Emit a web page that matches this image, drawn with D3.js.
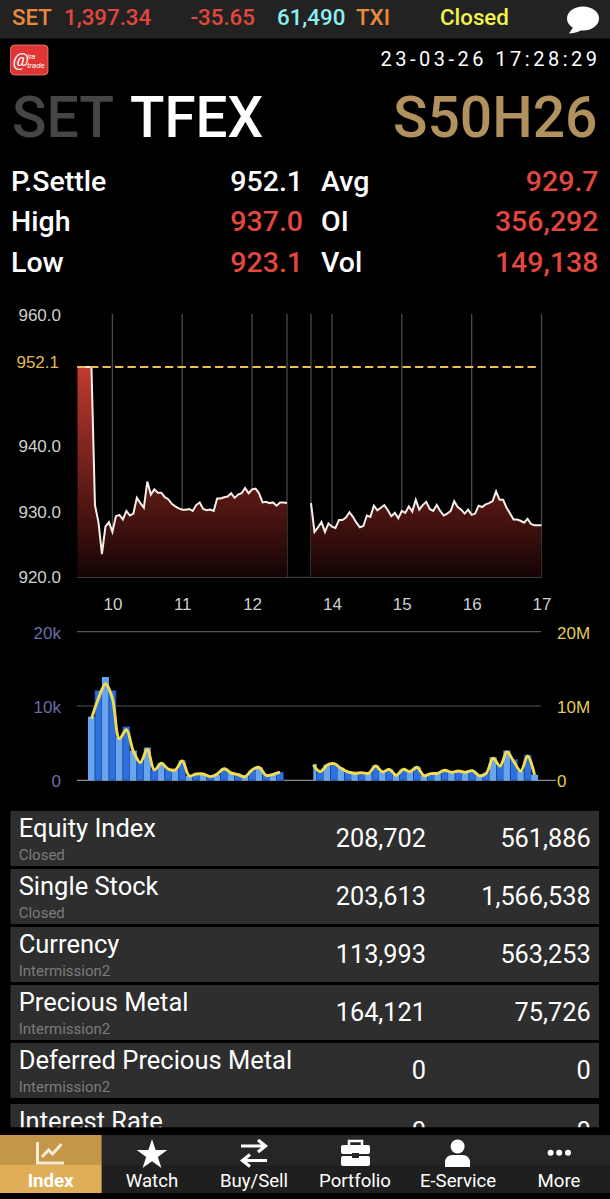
<!DOCTYPE html>
<html>
<head>
<meta charset="utf-8">
<script src="https://cdn.jsdelivr.net/npm/d3@7"></script>
<style>
  html, body { margin: 0; padding: 0; background: #000; }
  svg { display: block; font-family: Roboto, sans-serif; }
  .chartText { font-family: "Liberation Sans", sans-serif; font-size: 17px; }
</style>
</head>
<body>
<div id="chart"></div>
<script>
// price every 3 minutes, 9:30 - 12:30 and 13:42 - 17:00
var morningPrice = [952.1, 952.1, 952.1, 952.1, 952.1, 931.0, 928.4, 923.5, 927.7, 928.4, 926.9, 929.3, 929.5, 928.8, 930.1,
  929.4, 929.7, 932.1, 931.3, 930.6, 934.6, 932.6, 933.4, 932.9, 932.9, 932.2, 931.9, 931.2, 930.8, 930.5,
  930.3, 930.3, 930.4, 930.1, 931.0, 931.4, 930.4, 930.2, 930.3, 930.1, 932.0, 932.0, 932.2, 932.3, 932.8,
  932.1, 932.6, 932.8, 933.6, 932.8, 933.4, 933.5, 932.8, 931.4, 931.5, 931.3, 931.4, 930.9, 931.4, 931.4, 931.3];
var afternoonPrice = [931.3, 926.9, 927.6, 928.4, 926.9, 928.2, 927.7, 927.5, 928.7, 928.7, 929.1, 929.9, 929.2, 928.3, 927.6,
  927.8, 929.4, 929.2, 930.9, 930.2, 930.6, 931.0, 930.2, 929.3, 929.8, 929.0, 930.1, 929.8, 930.8, 930.0,
  931.8, 930.3, 931.0, 931.5, 930.4, 930.1, 931.0, 930.1, 929.4, 929.7, 930.1, 931.6, 930.7, 930.3, 929.7,
  930.3, 929.5, 929.7, 930.9, 930.7, 931.1, 931.3, 931.6, 933.1, 931.8, 931.8, 930.6, 929.7, 928.8, 928.8,
  928.6, 928.3, 928.9, 928.1, 927.9, 927.9, 927.9];

// volume (contracts) and value (millions), one bar every 6 minutes
var morningVolume = [8.56, 12.06, 13.9, 12.06, 5.8, 7.2, 4.0, 2.5, 4.4, 1.4, 2.3, 1.5, 1.4, 2.7, 0.6, 0.85, 0.8, 0.5, 0.75, 1.55, 1.1, 0.85, 0.5, 1.3, 1.75, 0.75, 0.8, 1.1];
var morningValue = [8.3, 11.0, 12.96, 11.0, 5.6, 6.8, 3.9, 2.4, 4.2, 1.4, 2.3, 1.5, 1.4, 2.6, 0.6, 0.85, 0.85, 0.5, 0.85, 1.55, 1.0, 0.75, 0.5, 1.4, 1.75, 0.65, 0.8, 1.1];
var afternoonVolume = [2.2, 1.3, 2.1, 2.3, 1.7, 1.15, 1.0, 1.05, 1.0, 2.0, 1.2, 1.5, 0.7, 1.5, 1.2, 1.8, 0.65, 0.95, 1.0, 1.4, 1.1, 1.3, 1.1, 1.35, 0.65, 1.0, 3.1, 2.0, 4.0, 2.8, 1.3, 3.4, 0.75];
var afternoonValue = [2.06, 1.17, 2.06, 2.24, 1.61, 1.12, 0.94, 1.03, 0.94, 1.93, 1.12, 1.48, 0.67, 1.48, 1.17, 1.75, 0.63, 0.9, 0.94, 1.35, 1.08, 1.26, 1.08, 1.3, 0.63, 0.94, 2.96, 1.93, 3.81, 2.51, 1.26, 3.27, 0.72];

var priceTicks = [920, 930, 940, 960];
var prevSettle = 952.1;
var hourTicks = [10, 11, 12, 14, 15, 16, 17];
var hourLines = [10, 11, 12, 12.5, 13.7, 14, 15, 16, 17];
var volumeTicks = [0, 10, 20];

var statNames = [["P.Settle", "High", "Low"], ["Avg", "OI", "Vol"]];
var statValues = [["952.1", "937.0", "923.1"], ["929.7", "356,292", "149,138"]];

var rowNames = ["Equity Index", "Single Stock", "Currency", "Precious Metal", "Deferred Precious Metal", "Interest Rate"];
var rowStatus = ["Closed", "Closed", "Intermission2", "Intermission2", "Intermission2", ""];
var rowVolume = ["208,702", "203,613", "113,993", "164,121", "0", "0"];
var rowOI = ["561,886", "1,566,538", "563,253", "75,726", "0", "0"];

var tabNames = ["Index", "Watch", "Buy/Sell", "Portfolio", "E-Service", "More"];
var tabCenters = [50.6, 152, 254, 355, 458, 559];

var red = "#e2473f", orange = "#e8893c", white = "#fff";

var svg = d3.select("#chart").append("svg").attr("width", 610).attr("height", 1199);
svg.append("rect").attr("width", 610).attr("height", 1199).attr("fill", "#000");

function label(parent, str, x, y, size, color, anchor, weight) {
  return parent.append("text").attr("x", x).attr("y", y).attr("font-size", size)
    .attr("fill", color).attr("text-anchor", anchor || "start").attr("font-weight", weight || 400).text(str);
}

// ---- top status bar
svg.append("rect").attr("width", 610).attr("height", 38.5).attr("fill", "#222");
label(svg, "SET", 12, 25, 22.3, orange, "start", 500);
label(svg, "1,397.34", 64, 25, 22.3, red, "start", 500);
label(svg, "-35.65", 190.5, 25, 22.3, red, "start", 500);
label(svg, "61,490", 277, 25, 22.3, "#8eeff0", "start", 500);
label(svg, "TXI", 356, 25, 22.3, orange, "start", 500);
label(svg, "Closed", 440, 25, 22.3, "#f2f24f", "start", 500);
svg.append("ellipse").attr("cx", 583).attr("cy", 18.5).attr("rx", 16).attr("ry", 12).attr("fill", "#fff");
svg.append("path").attr("d", "M574,26 L569,33.5 Q578,33 585,28 Z").attr("fill", "#fff");

// ---- logo, clock, titles
svg.append("rect").attr("x", 10.5).attr("y", 45).attr("width", 37.5).attr("height", 30).attr("rx", 4)
  .attr("fill", "#e03633").attr("stroke", "#ee8f86").attr("stroke-width", 0.7);
label(svg, "@", 13, 66, 18, "#fff").attr("font-style", "italic");
label(svg, "ira", 27, 59, 8, "#fff").attr("font-style", "italic");
label(svg, "trade", 27, 68, 8, "#fff").attr("font-style", "italic");
label(svg, "23-03-26 17:28:29", 600.5, 66, 20, "#fff", "end").attr("letter-spacing", "3.5px");
label(svg, "SET", 12, 137.3, 57, "#454545", "start", 500);
label(svg, "TFEX", 130, 137.3, 56.5, "#fff", "start", 500);
label(svg, "S50H26", 597.5, 137.3, 57, "#b1915d", "end", 500);

// ---- stat block
var statBase = [190.7, 231.3, 272];
statBase.forEach(function(y, i) {
  label(svg, statNames[0][i], 11, y, 28.5, white, "start", 500);
  label(svg, statValues[0][i], 303, y, 28.5, i == 0 ? white : red, "end", 500);
  label(svg, statNames[1][i], 321, y, 28.5, white, "start", 500);
  label(svg, statValues[1][i], 598.5, y, 28.5, red, "end", 500);
});

// ---- price chart
var x = d3.scaleLinear().domain([9.5, 12.5, 13.7, 17]).range([77.5, 287, 311, 541.5]);
var y = d3.scaleLinear().domain([920, 960]).range([577, 315.4]);

var morning = morningPrice.map(function(d, i) { return { t: 9.5 + i * 0.05, v: d }; });
var afternoon = afternoonPrice.map(function(d, i) { return { t: 13.7 + i * 0.05, v: d }; });

var defs = svg.append("defs");
var grad = defs.append("linearGradient").attr("id", "priceFill").attr("gradientUnits", "userSpaceOnUse")
  .attr("x1", 0).attr("x2", 0).attr("y1", y(prevSettle)).attr("y2", y(920));
grad.append("stop").attr("offset", 0).attr("stop-color", "#c23a30");
grad.append("stop").attr("offset", 1).attr("stop-color", "#150404");

svg.append("g").selectAll("line").data(hourLines).enter().append("line")
  .attr("x1", function(d) { return x(d); }).attr("x2", function(d) { return x(d); })
  .attr("y1", 314).attr("y2", y(920)).attr("stroke", "#4a4a4a").attr("stroke-width", 1.3);
svg.append("line").attr("x1", 77).attr("x2", 542).attr("y1", y(920) + 0.3).attr("y2", y(920) + 0.3)
  .attr("stroke", "#3a3a3a").attr("stroke-width", 1.2);

var area = d3.area().x(function(d) { return x(d.t); }).y0(y(920)).y1(function(d) { return y(d.v); });
var line = d3.line().x(function(d) { return x(d.t); }).y(function(d) { return y(d.v); });

[morning, afternoon].forEach(function(part) {
  svg.append("path").datum(part).attr("d", area).attr("fill", "url(#priceFill)");
  svg.append("path").datum(part).attr("d", line).attr("fill", "none").attr("stroke", "#f6efe9").attr("stroke-width", 2);
});

svg.append("line").attr("x1", 77.5).attr("x2", 537).attr("y1", y(prevSettle)).attr("y2", y(prevSettle))
  .attr("stroke", "#f0bd58").attr("stroke-width", 1.9).attr("stroke-dasharray", "8.3 4.2");

var yAxis = svg.append("g").attr("class", "chartText").attr("transform", "translate(61,0)")
  .call(d3.axisLeft(y).tickValues(priceTicks).tickSize(0).tickPadding(0).tickFormat(d3.format(".1f")));
yAxis.select(".domain").remove();
yAxis.selectAll("text").attr("fill", "#cfcfcf").style("font-size", "17px").style("font-family", "Liberation Sans");
label(svg, prevSettle.toFixed(1), 59, 368, 17, "#e3bb55", "end").attr("class", "chartText");

var xAxis = svg.append("g").attr("class", "chartText").attr("transform", "translate(0,598)")
  .call(d3.axisBottom(x).tickValues(hourTicks).tickSize(0).tickPadding(0).tickFormat(d3.format("d")));
xAxis.select(".domain").remove();
xAxis.selectAll("text").attr("fill", "#cfcfcf").style("font-size", "17px").style("font-family", "Liberation Sans");

// ---- volume chart
var yVol = d3.scaleLinear().domain([0, 20]).range([780.3, 631.7]);
var barStep = 0.1;

var bars = morningVolume.map(function(d, i) { return { t: 9.7 + i * barStep, v: d, val: morningValue[i], k: i }; });
var bars2 = afternoonVolume.map(function(d, i) { return { t: 13.733 + i * 0.099, v: d, val: afternoonValue[i], k: i }; });

svg.append("g").selectAll("line").data(volumeTicks).enter().append("line")
  .attr("x1", 77).attr("x2", function(d) { return d == 0 ? 556 : 541; })
  .attr("y1", function(d) { return yVol(d); }).attr("y2", function(d) { return yVol(d); })
  .attr("stroke", function(d) { return d == 0 ? "#8a8a8a" : "#555"; }).attr("stroke-width", 1.2);

var barLine = d3.line().curve(d3.curveCatmullRom.alpha(0.5)).x(function(d) { return x(d.t); }).y(function(d) { return yVol(d.val); });

[bars, bars2].forEach(function(part) {
  var left = x(part[0].t);
  svg.append("g").selectAll("rect").data(part).enter().append("rect")
    .attr("x", function(d) { return Math.max(x(d.t) - 3.5, d.k == 0 && part === bars2 ? left : -1); })
    .attr("width", function(d) { return d.k == 0 && part === bars2 ? 3.5 : 7; })
    .attr("y", function(d) { return yVol(d.v); })
    .attr("height", function(d) { return yVol(0) - yVol(d.v); })
    .attr("fill", function(d) { return d.k % 2 == 0 ? "#68a5ee" : "#2d70df"; })
    .attr("stroke", function(d) { return d.k % 2 == 0 ? "none" : "#17408f"; })
    .attr("stroke-width", 0.8);
  svg.append("path").datum(part).attr("d", barLine).attr("fill", "none")
    .attr("stroke", "#f3dc4e").attr("stroke-width", 2.9);
});

var volLeft = svg.append("g").attr("class", "chartText").attr("transform", "translate(61,1)")
  .call(d3.axisLeft(yVol).tickValues(volumeTicks).tickSize(0).tickPadding(0).tickFormat(function(d) { return d ? d + "k" : "0"; }));
volLeft.select(".domain").remove();
volLeft.selectAll("text").attr("fill", "#6c6ca6").style("font-size", "17px").style("font-family", "Liberation Sans");

var volRight = svg.append("g").attr("class", "chartText").attr("transform", "translate(557,1)")
  .call(d3.axisRight(yVol).tickValues(volumeTicks).tickSize(0).tickPadding(0).tickFormat(function(d) { return d ? d + "M" : "0"; }));
volRight.select(".domain").remove();
volRight.selectAll("text").attr("fill", "#e6cc55").style("font-size", "17px").style("font-family", "Liberation Sans");

// ---- market table, last row runs under the tab bar
defs.append("clipPath").attr("id", "tableClip").append("rect").attr("x", 0).attr("y", 800).attr("width", 610).attr("height", 327.3);
var table = svg.append("g").attr("clip-path", "url(#tableClip)");
rowNames.forEach(function(name, i) {
  var top = i == 5 ? 1104 : 811 + i * 58;
  table.append("rect").attr("x", 10.5).attr("y", top).attr("width", 588.5).attr("height", 55).attr("fill", "#2e2e2e");
  label(table, name, 18.7, top + 25.5, 25.5, white);
  label(table, rowStatus[i], 18.7, top + 49, 15, "#7b7b7b");
  label(table, rowVolume[i], 426, top + 35.7, 25.3, white, "end");
  label(table, rowOI[i], 590.7, top + 35.7, 25.3, white, "end");
});

// ---- tab bar
svg.append("rect").attr("y", 1135).attr("width", 610).attr("height", 30).attr("fill", "#262626");
svg.append("rect").attr("y", 1165).attr("width", 610).attr("height", 28).attr("fill", "#1f1f1f");
svg.append("rect").attr("y", 1135).attr("width", 101.6).attr("height", 30).attr("fill", "#c49647");
svg.append("rect").attr("y", 1165).attr("width", 101.6).attr("height", 28).attr("fill", "#e0ae58");
tabNames.forEach(function(name, i) {
  label(svg, name, tabCenters[i], 1186.7, 18.6, white, "middle", i == 0 ? 700 : 400);
});

// icons
var icons = svg.append("g");
icons.append("path").attr("d", "M37.5,1142V1163H64").attr("fill", "none").attr("stroke", "#f5ead4").attr("stroke-width", 3);
icons.append("path").attr("d", "M42,1157L48.6,1150L52.5,1154L61.5,1144").attr("fill", "none").attr("stroke", "#f5ead4").attr("stroke-width", 3);

icons.append("path").attr("d", d3.symbol(d3.symbolStar, 290)).attr("transform", "translate(152,1155)").attr("fill", "#fff");

icons.append("path").attr("d", "M241,1146H265M258,1140L265.5,1146L258,1152").attr("fill", "none").attr("stroke", "#fff").attr("stroke-width", 3.2);
icons.append("path").attr("d", "M267,1160.5H243M250,1154.5L242.5,1160.5L250,1166.5").attr("fill", "none").attr("stroke", "#fff").attr("stroke-width", 3.2);

icons.append("path").attr("d", "M349,1145V1141H362V1145").attr("fill", "none").attr("stroke", "#fff").attr("stroke-width", 2.5);
icons.append("rect").attr("x", 341).attr("y", 1145).attr("width", 29).attr("height", 9).attr("rx", 2).attr("fill", "#fff");
icons.append("rect").attr("x", 341).attr("y", 1156).attr("width", 29).attr("height", 10).attr("rx", 2).attr("fill", "#fff");
icons.append("rect").attr("x", 352).attr("y", 1153).attr("width", 7).attr("height", 5).attr("fill", "#262626");

icons.append("circle").attr("cx", 457.6).attr("cy", 1146.5).attr("r", 7).attr("fill", "#fff");
icons.append("path").attr("d", "M445,1167V1163Q445,1155 453,1155H462Q470,1155 470,1163V1167Z").attr("fill", "#fff");

[550.6, 559.2, 568].forEach(function(cx) {
  icons.append("circle").attr("cx", cx).attr("cy", 1152.7).attr("r", 3).attr("fill", "#fff");
});
</script>
</body>
</html>
